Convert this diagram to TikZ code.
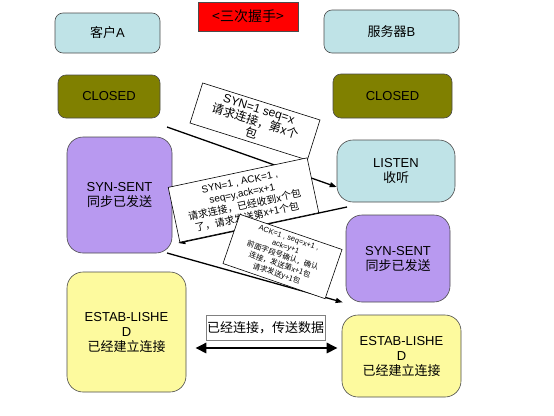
\documentclass[tikz,border=0pt]{standalone}
\usepackage{fontspec}
\setmainfont{Liberation Sans}
\newfontfamily\cjk{Noto Sans CJK SC}
\usetikzlibrary{arrows.meta}

\definecolor{paleblue}{RGB}{191,227,231}
\definecolor{olivebox}{RGB}{128,128,0}
\definecolor{lilac}{RGB}{184,153,240}
\definecolor{paleyellow}{RGB}{253,250,158}

\begin{document}
\begin{tikzpicture}[x=1pt,y=-1pt,
  statebox/.style={draw=black!70, line width=0.6pt, align=center, inner sep=0pt,
    font=\fontsize{13}{15}\selectfont},
  tagbox/.style={statebox, rounded corners=8pt},
  bigbox/.style={statebox, rounded corners=16pt},
  msgbox/.style={draw, fill=white, line width=0.6pt, align=center, inner sep=1pt},
  flow/.style={line width=1.3pt, -{Triangle[length=7pt,width=5pt]}},
  both/.style={line width=2.6pt, {Triangle[length=11pt,width=10pt]}-{Triangle[length=11pt,width=10pt]}}]
  \fill[white] (0,0) rectangle (554,415);

  \node[draw=black!70, fill=red, minimum width=100, minimum height=29, inner sep=0pt,
    font=\fontsize{14}{16}\selectfont] (title) at (248,16.5) {{\cjk <三次握手>}};

  \node[tagbox, fill=paleblue, minimum width=105, minimum height=40] (clientA) at (107.5,33) {{\cjk 客户}A};
  \node[tagbox, fill=paleblue, minimum width=135, minimum height=43] (serverB) at (391.5,31.5) {{\cjk 服务器}B};
  \node[tagbox, fill=olivebox, minimum width=102, minimum height=43] (closedA) at (109,96.5) {CLOSED};
  \node[tagbox, fill=olivebox, minimum width=119, minimum height=44] (closedB) at (392.5,96) {CLOSED};

  \node[bigbox, fill=lilac, minimum width=105, minimum height=116] (sentA) at (119.5,195) {SYN-SENT\\{\cjk 同步已发送}};
  \node[bigbox, fill=paleblue, minimum width=118, minimum height=62] (listenB) at (396,171) {LISTEN\\{\cjk 收听}};
  \node[bigbox, fill=lilac, minimum width=104, minimum height=87] (sentB) at (398,258.5) {SYN-SENT\\{\cjk 同步已发送}};
  \node[bigbox, fill=paleyellow, minimum width=119, minimum height=120] (estA) at (126.5,332) {ESTAB-LISHE\\D\\{\cjk 已经建立连接}};
  \node[bigbox, fill=paleyellow, minimum width=119, minimum height=82] (estB) at (401.5,356) {ESTAB-LISHE\\D\\{\cjk 已经建立连接}};

  \coordinate (synA) at (167,127);
  \coordinate (synB) at (347,207);
  \coordinate (ackA) at (167,253);
  \draw[flow] (synA) -- ([yshift=-16pt]listenB.west);
  \draw[flow] (synB) -- ([xshift=6pt,yshift=-48pt]sentA.east);
  \draw[flow] (ackA) -- ([xshift=-3pt]sentB.south west);

  \node[msgbox, rotate=-17.5, minimum width=123, minimum height=42,
    font=\fontsize{12}{13}\selectfont] (msgone) at (255,121.5)
    {SYN=1 seq=x\\{\cjk 请求连接，第x个}\\{\cjk 包}};
  \node[msgbox, rotate=12, minimum width=142, minimum height=56,
    font=\fontsize{10}{12}\selectfont] (msgtwo) at (243.5,200)
    {SYN=1 , ACK=1 ,\\seq=y,ack=x+1\\{\cjk 请求连接，已经收到x个包}\\{\cjk 了，请求发送第x+1个包}};
  \node[msgbox, rotate=-19, minimum width=108, minimum height=52,
    font=\fontsize{7.5}{9.5}\selectfont] (msgthree) at (282.5,256.5)
    {ACK=1 , seq=x+1 ,\\ack=y+1\\{\cjk 前面字段号确认，确认}\\{\cjk 连接，发送第x+1包}\\{\cjk 请求发送y+1包}};

  \node[draw=black!50, line width=0.5pt, minimum width=119, minimum height=25, inner sep=0pt,
    font=\fontsize{13}{15}\selectfont] (datalbl) at (265.5,327.5) {{\cjk 已经连接，传送数据}};
  \draw[both] ([xshift=9pt,yshift=-16pt]estA.east) -- ([xshift=-4pt,yshift=8pt]estB.west);
\end{tikzpicture}
\end{document}
